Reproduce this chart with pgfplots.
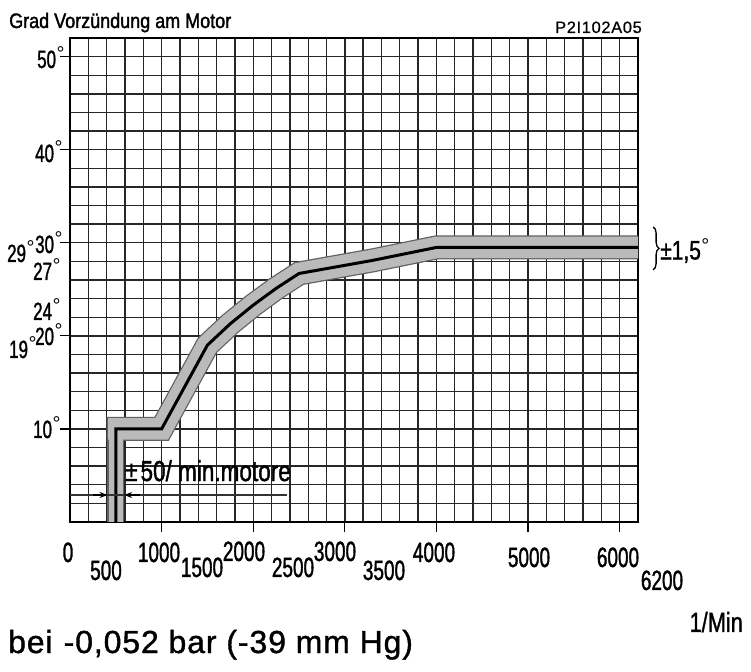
\documentclass[border=0pt]{standalone}
\usepackage{fontspec}
\setmainfont{Liberation Sans}
\newfontfamily\condnum[FakeStretch=0.68,FakeBold=1.2]{Liberation Sans}
\newfontfamily\condtxt[FakeStretch=0.78,FakeBold=1.2]{Liberation Sans}
\newfontfamily\condtitle[FakeStretch=0.86,FakeBold=1.6]{Liberation Sans}
\newfontfamily\codefont[LetterSpace=4,FakeBold=0.8]{Liberation Sans}
\newfontfamily\bottomfont[LetterSpace=3,FakeBold=1.2]{Liberation Sans}
\usepackage{pgfplots}
\usepackage{pgfplotstable}
\pgfplotsset{compat=1.18}
\usetikzlibrary{arrows.meta,decorations.pathreplacing}

\newcommand\dg{\kern0.5bp\rlap{\raisebox{7bp}{\fontsize{20}{20}\selectfont\rmfamily °}}\kern4bp}

% centre line of the advance curve (rpm, degrees)
\pgfplotstableread{
rpm deg
500 0
500 10
1000 10
1500 19
1750 21.3
2000 23.3
2250 25.1
2500 26.7
3300 28.1
4000 29.5
6200 29.5
}\curvedata
% tolerance band, main part (outline and fill)
\pgfplotstableread{
rpm deg
400 10
1000 10
1500 19
1750 21.3
2000 23.3
2250 25.1
2500 26.7
3300 28.1
4000 29.5
6200 29.5
}\bandout
\pgfplotstableread{
rpm deg
415 10
1000 10
1500 19
1750 21.3
2000 23.3
2250 25.1
2500 26.7
3300 28.1
4000 29.5
6200 29.5
}\bandfill
% tolerance band, vertical part at 500 1/min
\pgfplotstableread{
rpm deg
500 0
500 10
}\bandvert

\begin{document}
\begin{tikzpicture}
\useasboundingbox (0,0) rectangle (751bp,672bp);
\begin{axis}[
  at={(70bp,150bp)}, anchor=south west,
  scale only axis, width=568bp, height=484bp,
  xmin=0, xmax=6200, ymin=0, ymax=52,
  xtick={1000,2000,...,6000}, ytick={10,20,...,50},
  minor xtick={0,200,...,6200}, minor ytick={0,2,...,52},
  xticklabels={}, yticklabels={},
  grid=minor,
  minor grid style={black!85, line width=1.35bp},
  tick align=outside, tick pos=left,
  major tick length=10bp, minor tick length=0pt,
  tick style={black, line width=1.3bp},
  axis line style={black, line width=1.9bp},
  clip=false,
]
\addplot[black!62, line width=24bp, line join=miter, no marks] table {\bandout};
\addplot[black!62, line width=17bp, no marks] table {\bandvert};
\addplot[black!27, line width=21.5bp, line join=miter, no marks] table {\bandfill};
\addplot[black!27, line width=14.5bp, no marks] table {\bandvert};
\addplot[black, line width=3bp, line join=miter, no marks] table {\curvedata};

% dimension line for +-50 1/min
\draw[black!80, line width=1.3bp] (axis cs:0,2.9) -- (axis cs:2370,2.9);
\draw[black, line width=1.3bp, -{Stealth[length=8bp,width=6bp]}] (axis cs:250,2.9) -- (axis cs:410,2.9);
\draw[black, line width=1.3bp, -{Stealth[length=8bp,width=6bp]}] (axis cs:760,2.9) -- (axis cs:590,2.9);
\node[anchor=base west, inner sep=0, font=\condtxt\fontsize{29}{29}\selectfont] at (axis cs:600,4.4) {±\kern3bp 50/ min.motore};

% tolerance brace
\draw[decorate, decoration={brace, amplitude=6bp}, line width=1.3bp] (axis cs:6365,31.7) -- (axis cs:6365,27.1);
\node[anchor=base west, inner sep=0, font=\condtxt\fontsize{27}{27}\selectfont] at (axis cs:6441,28.2) {±1,5\dg};
\end{axis}

% title and code
\node[anchor=base west, inner sep=0, font=\condtitle\fontsize{21}{21}\selectfont] at (9bp,644bp) {Grad Vorzündung am Motor};
\node[anchor=base east, inner sep=0, font=\codefont\fontsize{16.5}{16.5}\selectfont] at (642bp,639bp) {P2I102A05};

% y labels
\begin{scope}[every node/.style={anchor=base west, inner sep=0, font=\condnum\fontsize{25}{25}\selectfont}]
\node at (37bp,604bp) {50\dg};
\node at (35bp,510bp) {40\dg};
\node at (35bp,419bp) {30\dg};
\node at (7bp,410bp) {29\dg};
\node at (33bp,392bp) {27\dg};
\node at (33bp,352bp) {24\dg};
\node at (35bp,327bp) {20\dg};
\node at (9bp,314bp) {19\dg};
\node at (33bp,234bp) {10\dg};
\end{scope}

% x labels
\begin{scope}[every node/.style={anchor=base, inner sep=0, font=\condnum\fontsize{28}{28}\selectfont}]
\node at (68bp,110bp) {0};
\node at (106bp,92bp) {500};
\node at (159bp,110bp) {1000};
\node at (202bp,95bp) {1500};
\node at (244bp,111bp) {2000};
\node at (293bp,95bp) {2500};
\node at (335bp,111bp) {3000};
\node at (384bp,92bp) {3500};
\node at (434bp,110bp) {4000};
\node at (529bp,105bp) {5000};
\node at (618bp,105bp) {6000};
\node at (662bp,82bp) {6200};
\end{scope}

\node[anchor=base east, inner sep=0, font=\condtxt\fontsize{28}{28}\selectfont] at (743bp,40bp) {1/Min};
\node[anchor=base west, inner sep=0, font=\bottomfont\fontsize{32}{32}\selectfont] at (8bp,19bp) {bei\hspace{11bp}-0,052 bar (-39 mm Hg)};
\end{tikzpicture}
\end{document}
